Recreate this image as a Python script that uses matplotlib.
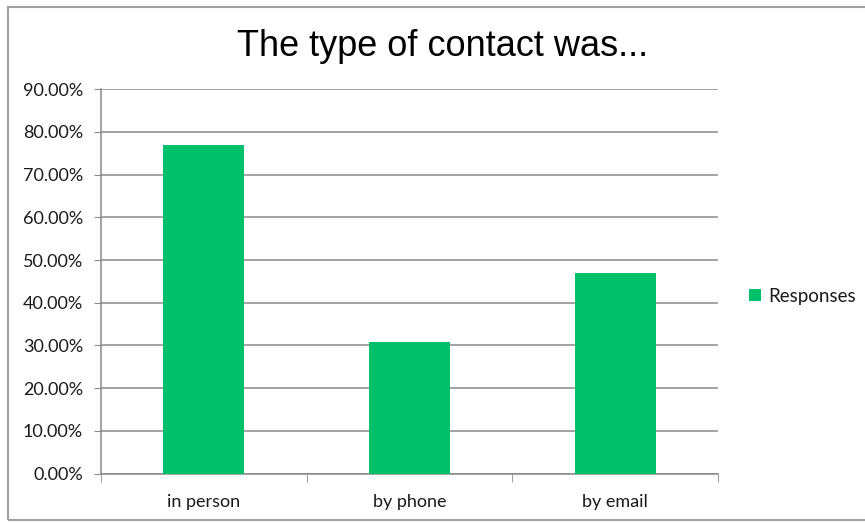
import matplotlib.pyplot as plt
from matplotlib.ticker import FuncFormatter, MultipleLocator, FixedLocator
from matplotlib.patches import Rectangle

# share of responses for each contact type
categories = ['in person', 'by phone', 'by email']
responses = [76.9, 30.8, 46.9]
series_name = 'Responses'

bar_color = '#00c06c'
grid_color = '#8a8a8a'
label_font = 'Lato'

fig = plt.figure(figsize=(8.65, 5.23), dpi=100)
ax = fig.add_axes([0.1168, 0.0946, 0.7132, 0.7347])

x = list(range(len(categories)))
ax.bar(x, responses, width=0.395, color=bar_color, label=series_name, zorder=3)

ax.set_xlim(-0.5, len(categories) - 0.5)
ax.set_ylim(0, 90)
ax.yaxis.set_major_locator(MultipleLocator(10))
ax.yaxis.set_major_formatter(FuncFormatter(lambda v, p: '%.2f%%' % v))
ax.grid(axis='y', color=grid_color, linewidth=1.1, zorder=0)

ax.set_xticks(x)
ax.set_xticklabels(categories)
ax.xaxis.set_minor_locator(FixedLocator([i - 0.5 for i in range(len(categories) + 1)]))
ax.tick_params(axis='x', which='major', length=0, pad=15)
ax.tick_params(axis='x', which='minor', length=6, color=grid_color, direction='out')
ax.tick_params(axis='y', length=5, color=grid_color, pad=8)
for lab in ax.get_xticklabels() + ax.get_yticklabels():
    lab.set_fontfamily(label_font)
    lab.set_fontsize(13)
    lab.set_color('#1a1a1a')

for s in ['top', 'right']:
    ax.spines[s].set_visible(False)
for s in ['left', 'bottom']:
    ax.spines[s].set_color(grid_color)
    ax.spines[s].set_linewidth(1.1)

fig.text(0.512, 0.911, 'The type of contact was...', ha='center', va='center',
         fontsize=26, family=['Liberation Sans Narrow', 'Liberation Sans'], color='black')

leg = fig.legend(loc='center left', bbox_to_anchor=(0.866, 0.434), frameon=False,
                 handlelength=0.65, handleheight=0.65, handletextpad=0.35,
                 borderpad=0, borderaxespad=0,
                 prop={'family': label_font, 'size': 13.5})
for t in leg.get_texts():
    t.set_color('#1a1a1a')

# outer chart frame
fig.patches.append(Rectangle((0.009, 0.006), 1.5, 0.98, transform=fig.transFigure,
                             fill=False, edgecolor='#a0a0a0', linewidth=1.5))

fig.savefig('out.png', dpi=100)
